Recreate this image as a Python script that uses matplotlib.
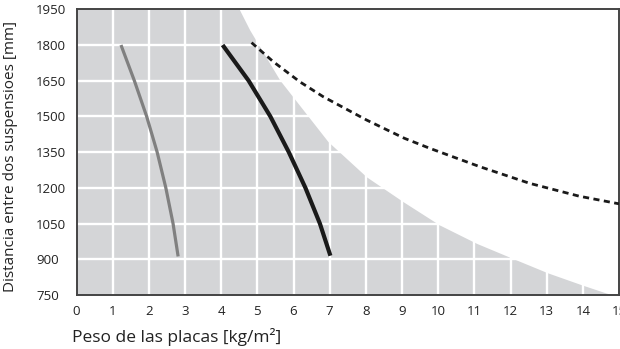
import numpy as np
import matplotlib
matplotlib.use('Agg')
import matplotlib.pyplot as plt

# 数据
x_ticks = list(range(0, 16))
y_ticks = [750, 900, 1050, 1200, 1350, 1500, 1650, 1800, 1950]

# 灰色区域边界
bound_x = [4.5, 4.79, 5.62, 6.95, 8.02, 9.03, 10.04, 11.06, 12.07, 13.03, 14.0, 14.65, 14.85]
bound_y = [1950, 1863, 1653, 1395, 1246, 1142, 1044, 967, 903, 843, 791, 758, 750]

# 灰色曲线
gray_x = [1.23, 1.60, 1.94, 2.23, 2.47, 2.67, 2.81]
gray_y = [1800, 1650, 1500, 1350, 1200, 1050, 912]

# 黑色实线
black_x = [4.04, 4.76, 5.36, 5.87, 6.33, 6.73, 7.02]
black_y = [1800, 1650, 1500, 1350, 1200, 1050, 915]

# 虚线
dash_x = [4.84, 5.44, 6.18, 6.82, 8.02, 9.07, 9.77, 11.15, 12.53, 13.9, 15.0]
dash_y = [1810, 1730, 1645, 1583, 1485, 1408, 1366, 1289, 1219, 1165, 1133]

plt.rcParams.update({
    'font.family': ['Open Sans', 'DejaVu Sans'],
    'axes.unicode_minus': False,
})

fig = plt.figure(figsize=(6.2, 3.49), dpi=100)
ax = fig.add_axes([76.5 / 620, 1 - 295 / 349, 542.5 / 620, 285.7 / 349])

ax.set_xlim(0, 15)
ax.set_ylim(750, 1950)

ax.fill_between([0] + bound_x, [1950] + bound_y, 750, color='#d4d5d7', lw=0, zorder=1)

for xv in x_ticks[1:-1]:
    ax.axvline(xv, color='white', lw=1.7, zorder=2)
for yv in y_ticks[1:-1]:
    ax.axhline(yv, color='white', lw=1.7, zorder=2)

ax.plot(gray_x, gray_y, color='#808080', lw=2.3, solid_capstyle='butt', zorder=3)
ax.plot(black_x, black_y, color='#1a1a1a', lw=3.0, solid_capstyle='butt', zorder=3)
ax.plot(dash_x, dash_y, color='#1a1a1a', lw=2.0, linestyle=(0, (2.2, 1.6)), zorder=3)

ax.set_xticks(x_ticks)
ax.set_yticks(y_ticks)
ax.tick_params(length=0, labelsize=9.5, colors='#222222')
ax.tick_params(axis='x', pad=7)
ax.tick_params(axis='y', pad=29)
for lbl in ax.get_yticklabels():
    lbl.set_horizontalalignment('left')

for sp in ax.spines.values():
    sp.set_color('#444444')
    sp.set_linewidth(1.4)

ax.set_ylabel('Distancia entre dos suspensioes [mm]', fontsize=11, color='#222222')
ax.yaxis.set_label_coords(-0.108, 0.485)
ax.set_xlabel('Peso de las placas [kg/m²]', fontsize=12.5, color='#222222', ha='left', va='center')
ax.xaxis.set_label_coords(-0.009, -0.148)

fig.savefig('out.png', dpi=100)
plt.close(fig)
